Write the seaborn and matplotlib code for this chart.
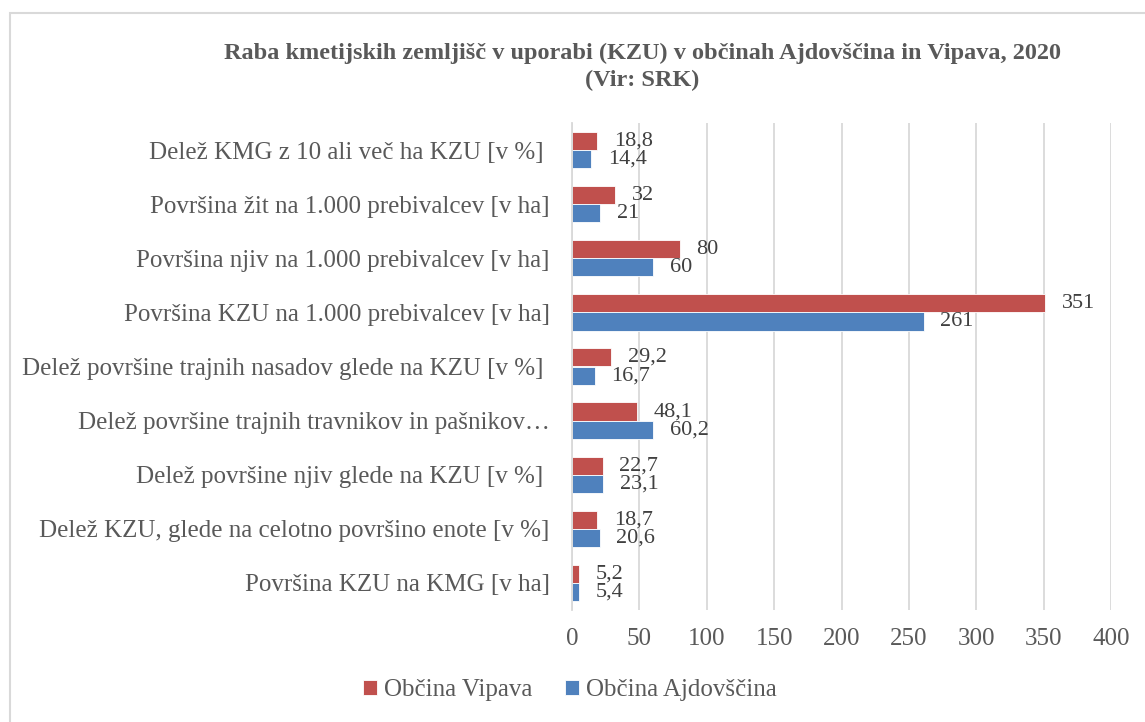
import pandas as pd
import seaborn as sns
import matplotlib.pyplot as plt
from matplotlib.patches import Rectangle

# --- Data ---
KATEGORIJE = [
    "Delež KMG z 10 ali več ha KZU [v %] ",
    "Površina žit na 1.000 prebivalcev [v ha]",
    "Površina njiv na 1.000 prebivalcev [v ha]",
    "Površina KZU na 1.000 prebivalcev [v ha]",
    "Delež površine trajnih nasadov glede na KZU [v %] ",
    "Delež površine trajnih travnikov in pašnikov…",
    "Delež površine njiv glede na KZU [v %] ",
    "Delež KZU, glede na celotno površino enote [v %]",
    "Površina KZU na KMG [v ha]",
]
VIPAVA = [18.8, 32, 80, 351, 29.2, 48.1, 22.7, 18.7, 5.2]
AJDOVSCINA = [14.4, 21, 60, 261, 16.7, 60.2, 23.1, 20.6, 5.4]
SERIJE = ["Občina Vipava", "Občina Ajdovščina"]
X_TICKS = [0, 50, 100, 150, 200, 250, 300, 350, 400]

TITLE = "Raba kmetijskih zemljišč v uporabi (KZU) v občinah Ajdovščina in Vipava, 2020\n(Vir: SRK)"
COLORS = {"Občina Vipava": "#C0504D", "Občina Ajdovščina": "#4F81BD"}
OUTPUT_PNG_FILENAME = "out.png"
# --- End Data ---


def build_frame() -> pd.DataFrame:
    rows = []
    for kat, v, a in zip(KATEGORIJE, VIPAVA, AJDOVSCINA):
        rows.append({"kategorija": kat, "obcina": SERIJE[0], "vrednost": v})
        rows.append({"kategorija": kat, "obcina": SERIJE[1], "vrednost": a})
    return pd.DataFrame(rows)


def fmt(v):
    return f"{v:g}".replace(".", ",")


def main():
    df = build_frame()

    sns.set_theme(style="white")
    plt.rcParams["font.family"] = ["Liberation Serif", "DejaVu Serif"]

    fig = plt.figure(figsize=(11.45, 7.22), dpi=100)
    ax = fig.add_axes([572 / 1145, 1 - 610 / 722, (1111 - 572) / 1145, (610 - 123) / 722])

    sns.barplot(data=df, y="kategorija", x="vrednost", hue="obcina",
                order=KATEGORIJE, hue_order=SERIJE, palette=COLORS,
                orient="h", width=0.67, gap=0, saturation=1,
                edgecolor="white", linewidth=0.6, ax=ax)

    # data labels (red above, blue below)
    for cont, vals in zip(ax.containers, [VIPAVA, AJDOVSCINA]):
        ax.bar_label(cont, labels=[fmt(v) for v in vals], padding=12,
                     fontsize=16, color="#404040")

    ax.set_xlim(0, 400)
    ax.set_xticks(X_TICKS)
    ax.set_ylim(len(KATEGORIJE) - 0.5, -0.5)
    ax.grid(axis="x", color="#D9D9D9", linewidth=1.3)
    ax.set_axisbelow(True)
    for side in ["top", "right", "bottom"]:
        ax.spines[side].set_visible(False)
    ax.spines["left"].set_color("#D9D9D9")
    ax.spines["left"].set_linewidth(1.3)
    ax.tick_params(axis="both", length=0, labelsize=18, labelcolor="#595959")
    ax.tick_params(axis="y", pad=16)
    ax.tick_params(axis="x", pad=13)
    ax.set_xlabel("")
    ax.set_ylabel("")

    handles, labels = ax.get_legend_handles_labels()
    ax.get_legend().remove()
    fig.legend(handles, labels, loc="center", bbox_to_anchor=(570 / 1145, 1 - 690 / 722),
               ncol=2, frameon=False, fontsize=18, handlelength=0.55, handleheight=0.55,
               handletextpad=0.3, columnspacing=1.3, labelcolor="#595959")

    fig.text(642 / 1145, 1 - 67 / 722, TITLE, ha="center", va="center",
             fontsize=17.5, fontweight="bold", color="#595959", linespacing=1.35)

    # outer chart border
    fig.add_artist(Rectangle((10 / 1145, -0.05), 1.0, 1 - 13 / 722 + 0.05,
                             transform=fig.transFigure, fill=False,
                             edgecolor="#D9D9D9", linewidth=1.5))

    plt.savefig(OUTPUT_PNG_FILENAME, dpi=100)


if __name__ == "__main__":
    main()
